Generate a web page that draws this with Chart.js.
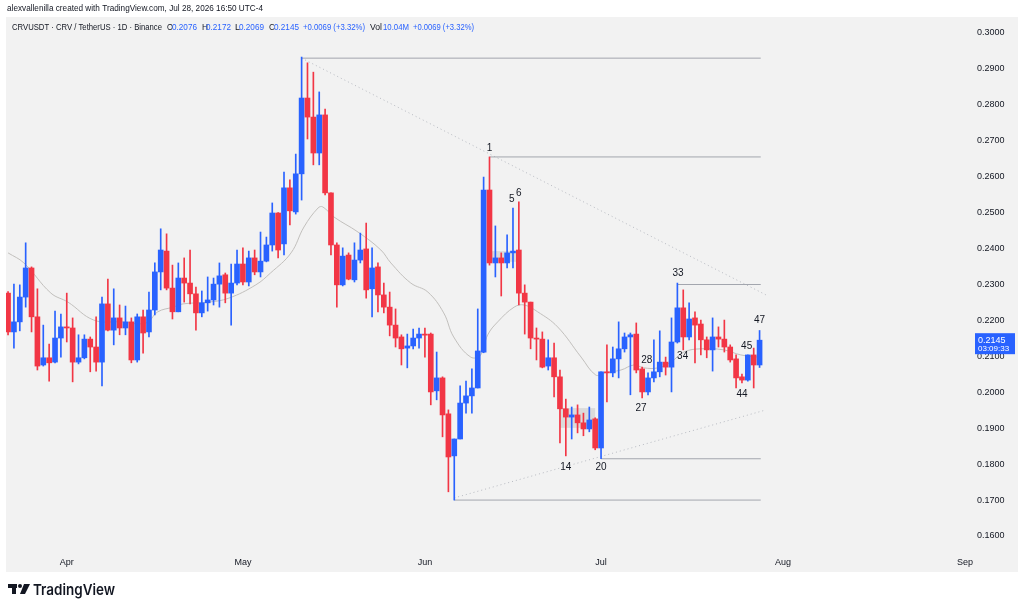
<!DOCTYPE html>
<html>
<head>
<meta charset="utf-8">
<script src="https://cdn.jsdelivr.net/npm/chart.js@4.4.1/dist/chart.umd.min.js"></script>
<style>
  html, body { margin: 0; padding: 0; background: #fff; }
  canvas { display: block; }
</style>
</head>
<body>
<canvas id="myChart" width="1024" height="612"></canvas>
<script>
// daily candles, CRV/USDT, Mar 22 .. Jul 28 (x = day index from Mar 22)
const opens = [
  0.2276,0.2168,0.2196,0.2265,0.2346,0.2210,0.2076,0.2096,0.2084,0.2151,
  0.2182,0.2179,0.2084,0.2096,0.2148,0.2126,0.2084,0.2246,0.2173,0.2207,
  0.2179,0.2196,0.2090,0.2210,0.2168,0.2229,0.2335,0.2393,0.2290,0.2224,
  0.2318,0.2304,0.2274,0.2221,0.2249,0.2257,0.2301,0.2327,0.2276,0.2304,
  0.2357,0.2307,0.2374,0.2335,0.2365,0.2410,0.2499,0.2413,0.2569,0.2502,
  0.2608,0.2819,0.2766,0.2666,0.2772,0.2555,0.2410,0.2299,0.2382,0.2313,
  0.2368,0.2399,0.2288,0.2349,0.2271,0.2237,0.2187,0.2154,0.2123,0.2129,
  0.2151,0.2162,0.2162,0.2004,0.2040,0.1940,0.1823,0.1870,0.1970,0.1990,
  0.2012,0.2112,0.2563,0.2360,0.2374,0.2360,0.2388,0.2396,0.2276,0.2251,
  0.2151,0.2148,0.2073,0.2096,0.2043,0.1954,0.1931,0.1937,0.1915,0.1898,
  0.1926,0.1845,0.2057,0.2054,0.2093,0.2121,0.2154,0.2162,0.2065,0.2001,
  0.2040,0.2057,0.2084,0.2070,0.2140,0.2235,0.2154,0.2207,0.2190,0.2146,
  0.2118,0.2154,0.2148,0.2126,0.2093,0.2043,0.2034,0.2104,0.2076
];
const highs = [
  0.2280,0.2301,0.2299,0.2416,0.2349,0.2288,0.2187,0.2134,0.2226,0.2218,
  0.2276,0.2207,0.2160,0.2160,0.2154,0.2210,0.2265,0.2315,0.2288,0.2243,
  0.2240,0.2207,0.2218,0.2229,0.2279,0.2360,0.2455,0.2441,0.2354,0.2360,
  0.2374,0.2396,0.2293,0.2282,0.2321,0.2318,0.2360,0.2332,0.2357,0.2396,
  0.2402,0.2393,0.2396,0.2446,0.2432,0.2527,0.2500,0.2613,0.2591,0.2663,
  0.2933,0.2917,0.2891,0.2836,0.2788,0.2555,0.2416,0.2402,0.2388,0.2416,
  0.2443,0.2471,0.2402,0.2360,0.2304,0.2279,0.2232,0.2160,0.2162,0.2176,
  0.2179,0.2179,0.2165,0.2112,0.2043,0.1951,0.1870,0.2018,0.2031,0.2065,
  0.2232,0.2599,0.2655,0.2463,0.2388,0.2438,0.2513,0.2530,0.2299,0.2251,
  0.2179,0.2168,0.2146,0.2137,0.2062,0.1981,0.1959,0.1965,0.1942,0.1959,
  0.1929,0.2057,0.2132,0.2126,0.2196,0.2165,0.2165,0.2193,0.2070,0.2054,
  0.2146,0.2171,0.2098,0.2207,0.2304,0.2285,0.2249,0.2224,0.2201,0.2154,
  0.2207,0.2182,0.2201,0.2132,0.2104,0.2051,0.2104,0.2123,0.2172
];
const lows = [
  0.2160,0.2123,0.2171,0.2237,0.2168,0.2062,0.2073,0.2031,0.2082,0.2098,
  0.2140,0.2029,0.2079,0.2093,0.2057,0.2059,0.2018,0.2171,0.2132,0.2160,
  0.2160,0.2082,0.2084,0.2109,0.2154,0.2215,0.2285,0.2285,0.2204,0.2224,
  0.2251,0.2246,0.2173,0.2210,0.2226,0.2243,0.2237,0.2249,0.2187,0.2299,
  0.2299,0.2296,0.2327,0.2321,0.2363,0.2393,0.2374,0.2382,0.2466,0.2496,
  0.2535,0.2705,0.2633,0.2633,0.2549,0.2382,0.2237,0.2296,0.2313,0.2307,
  0.2360,0.2262,0.2210,0.2224,0.2221,0.2157,0.2126,0.2076,0.2068,0.2121,
  0.2123,0.2098,0.1965,0.1979,0.1876,0.1723,0.1700,0.1870,0.1942,0.1942,
  0.2012,0.2110,0.2354,0.2321,0.2268,0.2346,0.2346,0.2243,0.2162,0.2121,
  0.2090,0.2068,0.2062,0.1987,0.1859,0.1823,0.1870,0.1887,0.1879,0.1890,
  0.1840,0.1815,0.1973,0.2043,0.2040,0.2112,0.1993,0.2054,0.1984,0.1993,
  0.2029,0.2043,0.2048,0.2001,0.2137,0.2118,0.2146,0.2082,0.2104,0.2096,
  0.2059,0.2126,0.2112,0.2084,0.2012,0.2026,0.2031,0.2012,0.2069
];
const closes = [
  0.2168,0.2196,0.2265,0.2346,0.2210,0.2073,0.2096,0.2082,0.2151,0.2182,
  0.2179,0.2084,0.2096,0.2148,0.2126,0.2084,0.2246,0.2173,0.2207,0.2179,
  0.2196,0.2090,0.2210,0.2165,0.2229,0.2335,0.2396,0.2290,0.2224,0.2318,
  0.2304,0.2274,0.2221,0.2249,0.2257,0.2301,0.2324,0.2276,0.2304,0.2357,
  0.2307,0.2374,0.2335,0.2365,0.2410,0.2499,0.2396,0.2569,0.2505,0.2608,
  0.2819,0.2766,0.2666,0.2772,0.2555,0.2410,0.2299,0.2379,0.2315,0.2368,
  0.2396,0.2285,0.2346,0.2271,0.2237,0.2187,0.2151,0.2121,0.2129,0.2151,
  0.2162,0.2159,0.2001,0.2040,0.1937,0.1820,0.1870,0.1970,0.1990,0.2012,
  0.2115,0.2563,0.2360,0.2374,0.2360,0.2388,0.2393,0.2276,0.2251,0.2151,
  0.2148,0.2070,0.2096,0.2043,0.1954,0.1931,0.1937,0.1915,0.1898,0.1923,
  0.1845,0.2057,0.2054,0.2093,0.2121,0.2154,0.2160,0.2062,0.2001,0.2040,
  0.2057,0.2084,0.2070,0.2140,0.2235,0.2154,0.2204,0.2187,0.2146,0.2118,
  0.2154,0.2148,0.2126,0.2090,0.2040,0.2034,0.2104,0.2076,0.2145
];

// gray moving average
const maX = [0, 2.7, 7.3, 10.2, 14.6, 19.2, 23.5, 25.5, 28.1, 29.8, 34.2, 37.6, 42.2, 44.7, 48.2, 50.4,
  52.8, 53.6, 55.5, 59.6, 63.5, 65.2, 68.6, 71.5, 74.2, 75.9, 78.8, 80.5, 81.7, 83.4, 86.2, 87.9,
  90.2, 93.6, 97.6, 100.1, 101.5, 104.4, 106.6, 108.3, 110.7, 112.9, 115.1, 118.0, 121.9, 124.8, 127.7];
const maY = [0.2388, 0.2360, 0.2276, 0.2251, 0.2201, 0.2196, 0.2193, 0.2224, 0.2237, 0.2246, 0.2251, 0.2262,
  0.2299, 0.2332, 0.2388, 0.2460, 0.2513, 0.2516, 0.2488, 0.2446, 0.2396, 0.2360, 0.2304, 0.2279,
  0.2221, 0.2154, 0.2098, 0.2104, 0.2160, 0.2196, 0.2237, 0.2243, 0.2224, 0.2182, 0.2098, 0.2048,
  0.2054, 0.2062, 0.2076, 0.2068, 0.2068, 0.2084, 0.2112, 0.2121, 0.2118, 0.2104, 0.2098];

// drawn levels: [xStart, xEnd, price]
const levels = [[50, 128.2, 0.2930], [82, 128.2, 0.2655], [114, 128.2, 0.2300], [101, 128.2, 0.1815], [76, 128.2, 0.1700]];
// dotted trend lines: [x1, y1, x2, y2]
const trends = [[50, 0.2930, 129.1, 0.2271], [76, 0.1706, 129.1, 0.1951]];
// gray boxes: [x1, x2, yTop, yBottom]
const boxes = [[82.4, 86.5, 0.2393, 0.2363], [94, 100, 0.1956, 0.1901]];
// count labels
const noteText = ['1', '5', '6', '14', '20', '27', '28', '33', '34', '44', '45', '47'];
const noteX = [82, 85.8, 87, 95, 101, 107.8, 108.8, 114.1, 114.9, 125, 125.8, 128];
const noteY = [0.2680, 0.2538, 0.2555, 0.1792, 0.1792, 0.1956, 0.2090, 0.2332, 0.2101, 0.1995, 0.2129, 0.2201];

const monthPos = [10, 40, 71, 101, 132, 163];
const monthNames = ['Apr', 'May', 'Jun', 'Jul', 'Aug', 'Sep'];
const priceTicks = [0.16, 0.17, 0.18, 0.19, 0.20, 0.21, 0.22, 0.23, 0.24, 0.25, 0.26, 0.27, 0.28, 0.29, 0.30];

const UP = '#2962ff';
const DOWN = '#f23645';
const candleColors = closes.map((c, i) => c >= opens[i] ? UP : DOWN);

const datasets = [
  {
    type: 'bar', label: 'wicks', grouped: false, order: 1,
    data: closes.map((c, i) => ({ x: i, y: [lows[i], highs[i]] })),
    backgroundColor: candleColors, barThickness: 1, borderWidth: 0
  },
  {
    type: 'bar', label: 'bodies', grouped: false, order: 0,
    data: closes.map((c, i) => ({ x: i, y: [opens[i], c] })),
    backgroundColor: candleColors, barThickness: 5, borderWidth: 0, minBarLength: 1
  },
  {
    type: 'line', label: 'ma', order: 3,
    data: maX.map((x, i) => ({ x: x, y: maY[i] })),
    borderColor: '#c2c0bd', borderWidth: 1, pointRadius: 0, tension: 0.4
  }
];
levels.forEach(l => datasets.push({
  type: 'line', order: 2, data: [{ x: l[0], y: l[2] }, { x: l[1], y: l[2] }],
  borderColor: '#a3a6ae', borderWidth: 1, pointRadius: 0
}));
trends.forEach(t => datasets.push({
  type: 'line', order: 2, data: [{ x: t[0], y: t[1] }, { x: t[2], y: t[3] }],
  borderColor: '#b8bbc2', borderWidth: 1, borderDash: [1, 3], pointRadius: 0
}));

const decor = {
  id: 'decor',
  beforeDraw(chart) {
    const c = chart.ctx;
    c.save();
    c.fillStyle = '#ffffff';
    c.fillRect(0, 0, chart.width, chart.height);
    c.fillStyle = '#f2f2f2';
    c.fillRect(6, 17, 1012, 555);
    c.restore();
  },
  beforeDatasetsDraw(chart) {
    const c = chart.ctx, xs = chart.scales.x, ys = chart.scales.y;
    c.save();
    c.fillStyle = 'rgba(160,160,160,0.28)';
    boxes.forEach(b => {
      const x1 = xs.getPixelForValue(b[0]), x2 = xs.getPixelForValue(b[1]);
      const y1 = ys.getPixelForValue(b[2]), y2 = ys.getPixelForValue(b[3]);
      c.fillRect(x1, y1, x2 - x1, y2 - y1);
    });
    c.restore();
  },
  afterDraw(chart) {
    const c = chart.ctx, xs = chart.scales.x, ys = chart.scales.y;
    c.save();
    c.textBaseline = 'middle';
    c.textAlign = 'left';
    // header
    c.fillStyle = '#131722';
    c.font = '9px "Liberation Sans"';
    c.fillText('alexvallenilla created with TradingView.com, Jul 28, 2026 16:50 UTC-4', 7, 9, 256);
    const hdr = [
      ['CRVUSDT · CRV / TetherUS · 1D · Binance', 12, '#131722', 150],
      ['O', 167, '#131722', 6], ['0.2076', 172, UP, 25],
      ['H', 202, '#131722', 6], ['0.2172', 206, UP, 25],
      ['L', 235, '#131722', 5], ['0.2069', 239, UP, 25],
      ['C', 269, '#131722', 6], ['0.2145', 274, UP, 25],
      ['+0.0069 (+3.32%)', 303, UP, 62],
      ['Vol', 370, '#131722', 12], ['10.04M', 383, UP, 26],
      ['+0.0069 (+3.32%)', 413, UP, 61]
    ];
    hdr.forEach(h => { c.fillStyle = h[2]; c.fillText(h[0], h[1], 28, h[3]); });

    // count labels
    c.fillStyle = '#131722';
    c.font = '10px "Liberation Sans"';
    c.textAlign = 'center';
    noteText.forEach((t, i) => c.fillText(t, xs.getPixelForValue(noteX[i]), ys.getPixelForValue(noteY[i])));

    // last price tag
    const last = closes[closes.length - 1];
    const py = ys.getPixelForValue(last);
    c.fillStyle = UP;
    c.fillRect(975, py - 7, 40, 21);
    c.fillStyle = '#ffffff';
    c.textAlign = 'left';
    c.font = '9px "Liberation Sans"';
    c.fillText(last.toFixed(4), 978, py, 30);
    c.font = '8px "Liberation Sans"';
    c.fillText('03:09:33', 978, py + 9, 34);

    // logo
    c.fillStyle = '#131722';
    c.fillRect(8, 584, 9, 4);
    c.fillRect(12, 584, 4, 10);
    c.beginPath(); c.arc(20, 586, 2, 0, Math.PI * 2); c.fill();
    c.beginPath(); c.moveTo(24, 584); c.lineTo(30, 584); c.lineTo(25, 594); c.lineTo(20, 594); c.closePath(); c.fill();
    c.font = '600 15px Inter';
    c.fillText('TradingView', 33, 590, 82);
    c.restore();
  }
};

new Chart(document.getElementById('myChart'), {
  type: 'bar',
  data: { datasets: datasets },
  options: {
    responsive: false,
    animation: false,
    devicePixelRatio: 1,
    layout: { padding: { left: 6, top: 17, right: 6, bottom: 40 } },
    plugins: { legend: { display: false }, tooltip: { enabled: false } },
    scales: {
      x: {
        type: 'linear', offset: false, min: -0.35, max: 163.5,
        grid: { display: false, drawTicks: false }, border: { display: false },
        afterBuildTicks: s => { s.ticks = monthPos.map(v => ({ value: v })); },
        afterFit: s => { s.height = 26; },
        ticks: {
          autoSkip: false, maxRotation: 0, padding: 11, color: '#131722',
          font: { family: 'Liberation Sans', size: 9 },
          callback: v => monthNames[monthPos.indexOf(v)]
        }
      },
      y: {
        position: 'right', min: 0.157217, max: 0.304453,
        grid: { display: false, drawTicks: false }, border: { display: false },
        afterBuildTicks: s => { s.ticks = priceTicks.map(v => ({ value: v })); },
        afterFit: s => { s.width = 50; },
        ticks: {
          padding: 9, color: '#131722',
          font: { family: 'Liberation Sans', size: 9 },
          callback: v => v.toFixed(4)
        }
      }
    }
  },
  plugins: [decor]
});
</script>
</body>
</html>
